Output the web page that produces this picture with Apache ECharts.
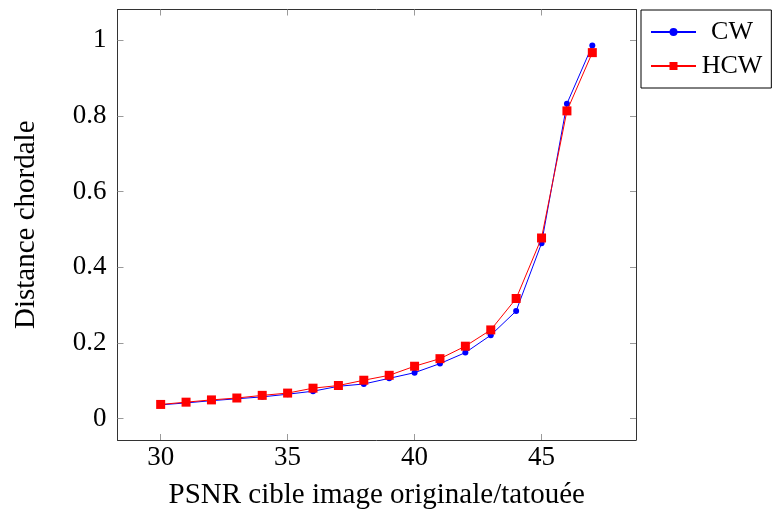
<!DOCTYPE html>
<html><head><meta charset="utf-8">
<script src="https://cdn.jsdelivr.net/npm/echarts@6/dist/echarts.min.js"></script>
<style>html,body{margin:0;padding:0;background:#fff}#c{width:772px;height:517px}</style>
</head><body><div id="c"></div>
<script>
const psnr = [30,31,32,33,34,35,36,37,38,39,40,41,42,43,44,45,46,47];
const cw   = [0.036,0.041,0.047,0.052,0.057,0.064,0.072,0.085,0.091,0.106,0.121,0.145,0.174,0.220,0.284,0.463,0.832,0.986];
const hcw  = [0.037,0.043,0.049,0.054,0.061,0.067,0.080,0.087,0.101,0.114,0.138,0.158,0.191,0.234,0.317,0.477,0.813,0.967];
const xTicks = [30,35,40,45];
const yTicks = [0,0.2,0.4,0.6,0.8,1];
const xTitle = 'PSNR cible image originale/tatouée';
const yTitle = 'Distance chordale';

const font = 'Liberation Serif';
const xr = [28.3, 48.72], yr = [-0.057, 1.081];
const tick = {show:true, inside:true, length:6, lineStyle:{color:'#9a9a9a', width:1}};
function ax(pos, ticks, range, label, margin, extra) {
  return Object.assign({
    type:'value', position:pos, min:range[0], max:range[1],
    axisLine:{show:true, onZero:false, lineStyle:{color:'#333', width:1}},
    axisTick:Object.assign({}, tick, {customValues:ticks}),
    axisLabel:label ? {show:true, customValues:ticks, color:'#000', fontFamily:font, fontSize:27, margin:margin,
       formatter:v=>String(+v.toFixed(2))} : {show:false},
    splitLine:{show:false}
  }, extra||{});
}
const chart = echarts.init(document.getElementById('c'));
chart.setOption({
  animation:false,
  backgroundColor:'#fff',
  grid:{left:117.5, top:9.5, right:136, bottom:77, containLabel:false},
  xAxis:[
    ax('bottom',xTicks,xr,true,4,{name:xTitle, nameLocation:'middle', nameGap:41,
      nameTextStyle:{color:'#000', fontFamily:font, fontSize:29}}),
    ax('top',xTicks,xr,false,0)
  ],
  yAxis:[
    ax('left',yTicks,yr,true,11,{name:yTitle, nameLocation:'middle', nameGap:77, nameRotate:90,
      nameTextStyle:{color:'#000', fontFamily:font, fontSize:29}}),
    ax('right',yTicks,yr,false,0)
  ],
  legend:{
    orient:'vertical', left:641, top:10, padding:[9,9,9,9], itemGap:8,
    borderColor:'#000', borderWidth:1, backgroundColor:'#fff',
    itemWidth:45, itemHeight:10,
    formatter: n => '{a|' + n + '}',
    textStyle:{color:'#000', fontFamily:font, fontSize:26,
      rich:{a:{width:62, align:'center', fontFamily:font, fontSize:26, color:'#000'}}},
    data:['CW','HCW']
  },
  series:[
    {name:'CW', type:'line', data:psnr.map((x,i)=>[x,cw[i]]), symbol:'circle', symbolSize:6,
     lineStyle:{color:'#0000ff', width:1}, itemStyle:{color:'#0000ff'}, z:2},
    {name:'HCW', type:'line', data:psnr.map((x,i)=>[x,hcw[i]]), symbol:'rect', symbolSize:9,
     lineStyle:{color:'#ff0000', width:1}, itemStyle:{color:'#ff0000'}, z:3}
  ]
});
</script></body></html>
